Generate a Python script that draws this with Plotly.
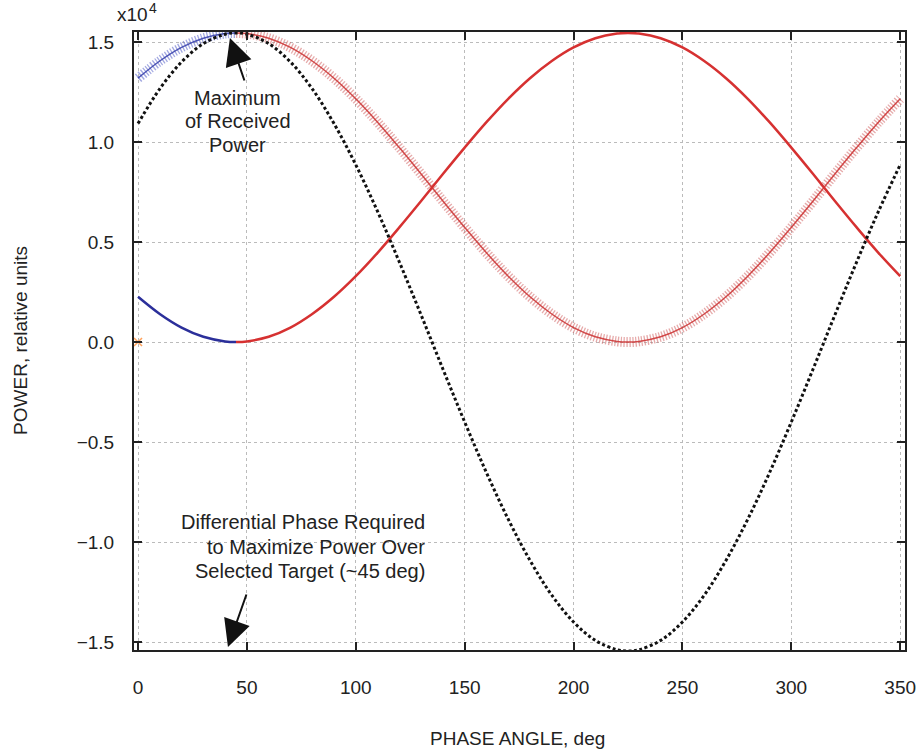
import plotly.graph_objects as go

# Phase angle samples (deg)
PHASE = [0, 10, 20, 30, 40, 45, 50, 60, 70, 80, 90, 100, 110, 120, 130, 140, 150, 160,
         170, 180, 190, 200, 210, 220, 225, 230, 240, 250, 260, 270, 280, 290, 300,
         310, 320, 330, 340, 350]
# Differential power (x10^4)
DIFF = [1.092, 1.266, 1.400, 1.492, 1.539, 1.545, 1.539, 1.492, 1.400, 1.266, 1.092,
        0.886, 0.653, 0.400, 0.135, -0.135, -0.400, -0.653, -0.886, -1.092, -1.266,
        -1.400, -1.492, -1.539, -1.545, -1.539, -1.492, -1.400, -1.266, -1.092, -0.886,
        -0.653, -0.400, -0.135, 0.135, 0.400, 0.653, 0.886]
# Low channel power (x10^4)
LOW = [0.226, 0.140, 0.072, 0.026, 0.003, 0.000, 0.003, 0.026, 0.072, 0.140, 0.226,
       0.329, 0.446, 0.573, 0.705, 0.840, 0.972, 1.099, 1.216, 1.319, 1.405, 1.473,
       1.519, 1.542, 1.545, 1.542, 1.519, 1.473, 1.405, 1.319, 1.216, 1.099, 0.972,
       0.840, 0.705, 0.573, 0.446, 0.329]
# High channel power (x10^4)
HIGH = [1.319, 1.405, 1.473, 1.519, 1.542, 1.545, 1.542, 1.519, 1.473, 1.405, 1.319,
        1.216, 1.099, 0.972, 0.840, 0.705, 0.573, 0.446, 0.329, 0.226, 0.140, 0.072,
        0.026, 0.003, 0.000, 0.003, 0.026, 0.072, 0.140, 0.226, 0.329, 0.446, 0.573,
        0.705, 0.840, 0.972, 1.099, 1.216]
SPLIT = 5  # index of 45 deg

X_TICKS = [0, 50, 100, 150, 200, 250, 300, 350]
Y_TICKS = [-1.5, -1.0, -0.5, 0.0, 0.5, 1.0, 1.5]

NOTE_MAX = ["Maximum", "of Received", "Power"]
NOTE_DIFF = ["Differential Phase Required", "to Maximize Power Over",
             "Selected Target (~45 deg)"]

FONT = "Liberation Sans, Arial, sans-serif"
TXT = "#222222"
fig = go.Figure()

def band(x, y, col_band, col_line):
    fig.add_trace(go.Scatter(x=x, y=y, mode="lines", line_shape="spline",
                             line=dict(color=col_band, width=10, dash="1.3px,1.7px"),
                             hoverinfo="skip", showlegend=False))
    fig.add_trace(go.Scatter(x=x, y=y, mode="lines", line_shape="spline",
                             line=dict(color=col_line, width=1.5),
                             hoverinfo="skip", showlegend=False))

band(PHASE[:SPLIT + 1], HIGH[:SPLIT + 1], "rgba(100,110,205,0.6)", "rgba(50,60,170,0.85)")
band(PHASE[SPLIT:], HIGH[SPLIT:], "rgba(210,100,100,0.55)", "rgba(205,55,55,0.9)")

fig.add_trace(go.Scatter(x=[PHASE[0]], y=[0.0], mode="markers",
                         marker=dict(symbol="x-thin-open", size=8,
                                     line=dict(color="rgba(215,120,120,0.8)", width=1.5)),
                         showlegend=False, hoverinfo="skip"))

fig.add_trace(go.Scatter(x=PHASE[:SPLIT + 1], y=LOW[:SPLIT + 1], mode="lines",
                         line_shape="spline", line=dict(color="#2b2f9a", width=2.5),
                         showlegend=False))
fig.add_trace(go.Scatter(x=PHASE[SPLIT:], y=LOW[SPLIT:], mode="lines",
                         line_shape="spline", line=dict(color="#d63131", width=2.5),
                         showlegend=False))
fig.add_trace(go.Scatter(x=PHASE, y=DIFF, mode="lines", line_shape="spline",
                         line=dict(color="#111111", width=3, dash="3px,2.5px"),
                         showlegend=False))

axis_common = dict(showline=True, linecolor="#222", linewidth=2, mirror="ticks",
                   ticks="inside", ticklen=8, tickwidth=1.5, tickcolor="#222",
                   showgrid=True, gridcolor="#bbbbbb", griddash="dot", gridwidth=1,
                   zeroline=False, automargin=False,
                   tickfont=dict(size=19, color=TXT, family=FONT))

fig.update_xaxes(range=[-1.84, 352.2], tickvals=X_TICKS, ticklabelstandoff=19, **axis_common)
fig.update_yaxes(range=[-1.54, 1.55], tickvals=Y_TICKS, tickformat=".1f",
                 ticklabelstandoff=14, **axis_common)

annots = [
    dict(x=42.2, y=1.52, ax=15, ay=44, showarrow=True, arrowhead=2, arrowsize=2.7,
         arrowwidth=2, arrowcolor="#111", text="", standoff=0),
    dict(x=41.3, y=-1.525, ax=19, ay=-54, showarrow=True, arrowhead=2, arrowsize=2.7,
         arrowwidth=2, arrowcolor="#111", text="", standoff=0),
]
for line, yy in zip(NOTE_MAX, [1.22, 1.105, 0.985]):
    annots.append(dict(x=45.9, y=yy, text=line, showarrow=False, xanchor="center",
                       yanchor="middle", font=dict(size=20, color=TXT, family=FONT)))
for line, yy in zip(NOTE_DIFF, [-0.90, -1.025, -1.145]):
    annots.append(dict(x=132.7, y=yy, text=line, showarrow=False, xanchor="right",
                       yanchor="middle", font=dict(size=20, color=TXT, family=FONT)))
annots += [
    dict(xref="paper", yref="paper", x=0.0208, y=1.0291, xanchor="right", yanchor="middle",
         text="x10", showarrow=False, font=dict(size=19, color=TXT, family=FONT)),
    dict(xref="paper", yref="paper", x=0.0165, y=1.0388, xanchor="left", yanchor="middle",
         text="4", showarrow=False, font=dict(size=14, color=TXT, family=FONT)),
    dict(xref="paper", yref="paper", x=0.497, y=-0.1424, xanchor="center", yanchor="middle",
         text="PHASE ANGLE, deg", showarrow=False, font=dict(size=19, color=TXT, family=FONT)),
    dict(xref="paper", yref="paper", x=-0.148, y=0.5016, xanchor="center", yanchor="middle",
         text="POWER, relative units", textangle=-90, showarrow=False,
         font=dict(size=19, color=TXT, family=FONT)),
]

fig.update_layout(width=918, height=755, margin=dict(l=134, r=13, t=32, b=105),
                  plot_bgcolor="white", paper_bgcolor="white", annotations=annots,
                  font=dict(family=FONT))

fig.write_html("out.html", config={"displayModeBar": False},
               post_script="document.body.style.margin='0';document.body.style.overflow='hidden';")
